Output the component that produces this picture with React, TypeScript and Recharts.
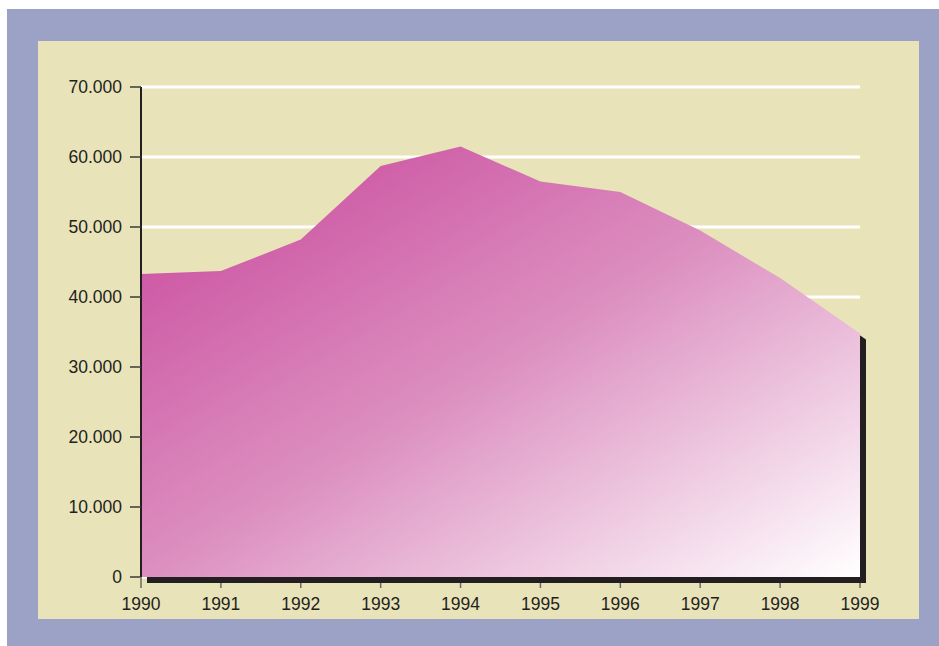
import React from 'react';
import { AreaChart, Area, XAxis, YAxis, CartesianGrid } from 'recharts';

const years = ['1990', '1991', '1992', '1993', '1994', '1995', '1996', '1997', '1998', '1999'];
const values = [43300, 43700, 48200, 58700, 61500, 56500, 55000, 49500, 42700, 34800];
const yTicks = [0, 10000, 20000, 30000, 40000, 50000, 60000, 70000];

const data = years.map((year, i) => ({ year, value: values[i] }));

const formatThousands = (v: number) =>
  v === 0 ? '0' : v.toString().replace(/\B(?=(\d{3})+(?!\d))/g, '.');

const XTick = (props: any) => {
  const { x, y, payload } = props;
  const top = payload.value === '1990' ? y : y + 6;
  return (
    <g>
      <line x1={x} y1={top} x2={x} y2={y + 11} stroke="#6d6a66" strokeWidth={1.5} />
      <text x={x} y={y + 33} textAnchor="middle" fill="#231f20" fontSize={17.5}>
        {payload.value}
      </text>
    </g>
  );
};

const App: React.FC = () => {
  return (
    <div
      style={{
        position: 'absolute',
        left: 0,
        top: 0,
        width: 939,
        height: 646,
        background: '#ffffff',
        fontFamily: '"Liberation Sans", Arial, sans-serif',
      }}
    >
      <style>{`.shadow-area { transform: translate(6px, 6px); }`}</style>
      {/* Outer blue frame */}
      <div style={{ position: 'absolute', left: 7, top: 9, right: 0, bottom: 0, background: '#9ba2c6' }} />
      {/* Inner beige panel */}
      <div style={{ position: 'absolute', left: 38, top: 41, width: 881, height: 578, background: '#e8e3b9' }} />

      <div style={{ position: 'absolute', left: 0, top: 0 }}>
        <AreaChart
          width={939}
          height={646}
          data={data}
          margin={{ top: 87, right: 79, bottom: 39, left: 41 }}
        >
          <defs>
            <linearGradient id="pinkFade" x1="0" y1="0" x2="1" y2="1">
              <stop offset="0%" stopColor="#c8449a" />
              <stop offset="50%" stopColor="#dc8fc0" />
              <stop offset="100%" stopColor="#ffffff" />
            </linearGradient>
          </defs>
          <CartesianGrid vertical={false} stroke="#ffffff" strokeWidth={3} />
          <XAxis
            dataKey="year"
            height={30}
            axisLine={false}
            tickLine={false}
            tickSize={0}
            tickMargin={0}
            tick={<XTick />}
            interval={0}
          />
          <YAxis
            width={100}
            domain={[0, 70000]}
            ticks={yTicks}
            tickFormatter={formatThousands}
            axisLine={{ stroke: '#231f20', strokeWidth: 2 }}
            tickLine={{ stroke: '#3d3a38', strokeWidth: 1.5 }}
            tickSize={11}
            tickMargin={8}
            tick={{ fill: '#231f20', fontSize: 17.5 }}
          />
          <Area
            className="shadow-area"
            type="linear"
            dataKey="value"
            stroke="none"
            fill="#231f20"
            fillOpacity={1}
            isAnimationActive={false}
          />
          <Area
            type="linear"
            dataKey="value"
            stroke="none"
            fill="url(#pinkFade)"
            fillOpacity={1}
            isAnimationActive={false}
          />
        </AreaChart>
      </div>
    </div>
  );
};

export default App;
